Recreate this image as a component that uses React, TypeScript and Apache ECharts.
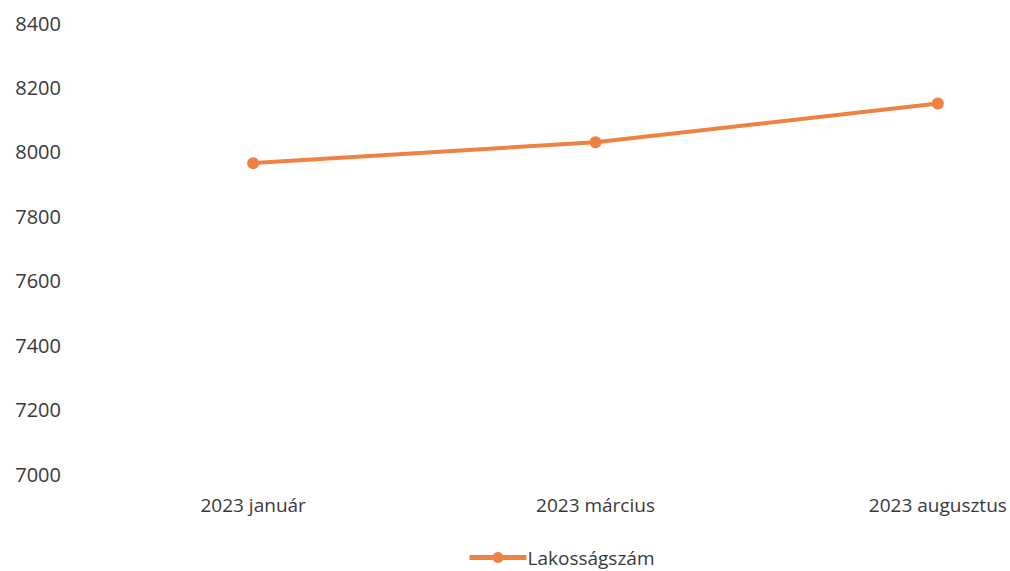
import React, { useEffect, useRef } from "react";
import * as echarts from "echarts";

const categories = ["2023 január", "2023 március", "2023 augusztus"];
const seriesName = "Lakosságszám";
const values = [7965, 8030, 8150];
const yMin = 7000;
const yMax = 8400;
const yInterval = 200;

const ORANGE = "#EF8242";
const TEXT = "#3a3a3a";
const FONT = "'Open Sans', 'Noto Sans', sans-serif";

export default function App() {
  const ref = useRef<HTMLDivElement>(null);
  useEffect(() => {
    if (!ref.current) return;
    const chart = echarts.init(ref.current, undefined, { renderer: "svg" });
    chart.setOption({
      animation: false,
      backgroundColor: "#ffffff",
      grid: {
        left: 82,
        top: 23,
        width: 1027,
        height: 451,
        containLabel: false,
        outerBoundsMode: "none",
      },
      legend: {
        data: [seriesName],
        left: 467,
        top: 548,
        padding: 0,
        itemWidth: 57,
        itemHeight: 14,
        itemGap: 4,
        lineStyle: { width: 5 },
        textStyle: {
          color: TEXT,
          fontSize: 19,
          fontFamily: FONT,
          lineHeight: 19,
          padding: [0, 0, 0, -4],
        },
      },
      xAxis: {
        type: "category",
        data: categories,
        boundaryGap: true,
        axisLine: { show: false },
        axisTick: { show: false },
        splitLine: { show: false },
        axisLabel: { color: TEXT, fontSize: 19, fontFamily: FONT, margin: 21 },
      },
      yAxis: {
        type: "value",
        min: yMin,
        max: yMax,
        interval: yInterval,
        axisLine: { show: false },
        axisTick: { show: false },
        splitLine: { show: false },
        axisLabel: {
          color: TEXT,
          fontSize: 20,
          fontFamily: FONT,
          margin: 21,
          formatter: (v: number) => String(v),
        },
      },
      series: [
        {
          name: seriesName,
          type: "line",
          data: values,
          symbol: "circle",
          symbolSize: 12,
          itemStyle: { color: ORANGE },
          lineStyle: { color: ORANGE, width: 4 },
        },
      ],
    });
    return () => chart.dispose();
  }, []);
  return (
    <div
      ref={ref}
      style={{ position: "fixed", left: 0, top: 0, width: 1010, height: 571 }}
    />
  );
}
